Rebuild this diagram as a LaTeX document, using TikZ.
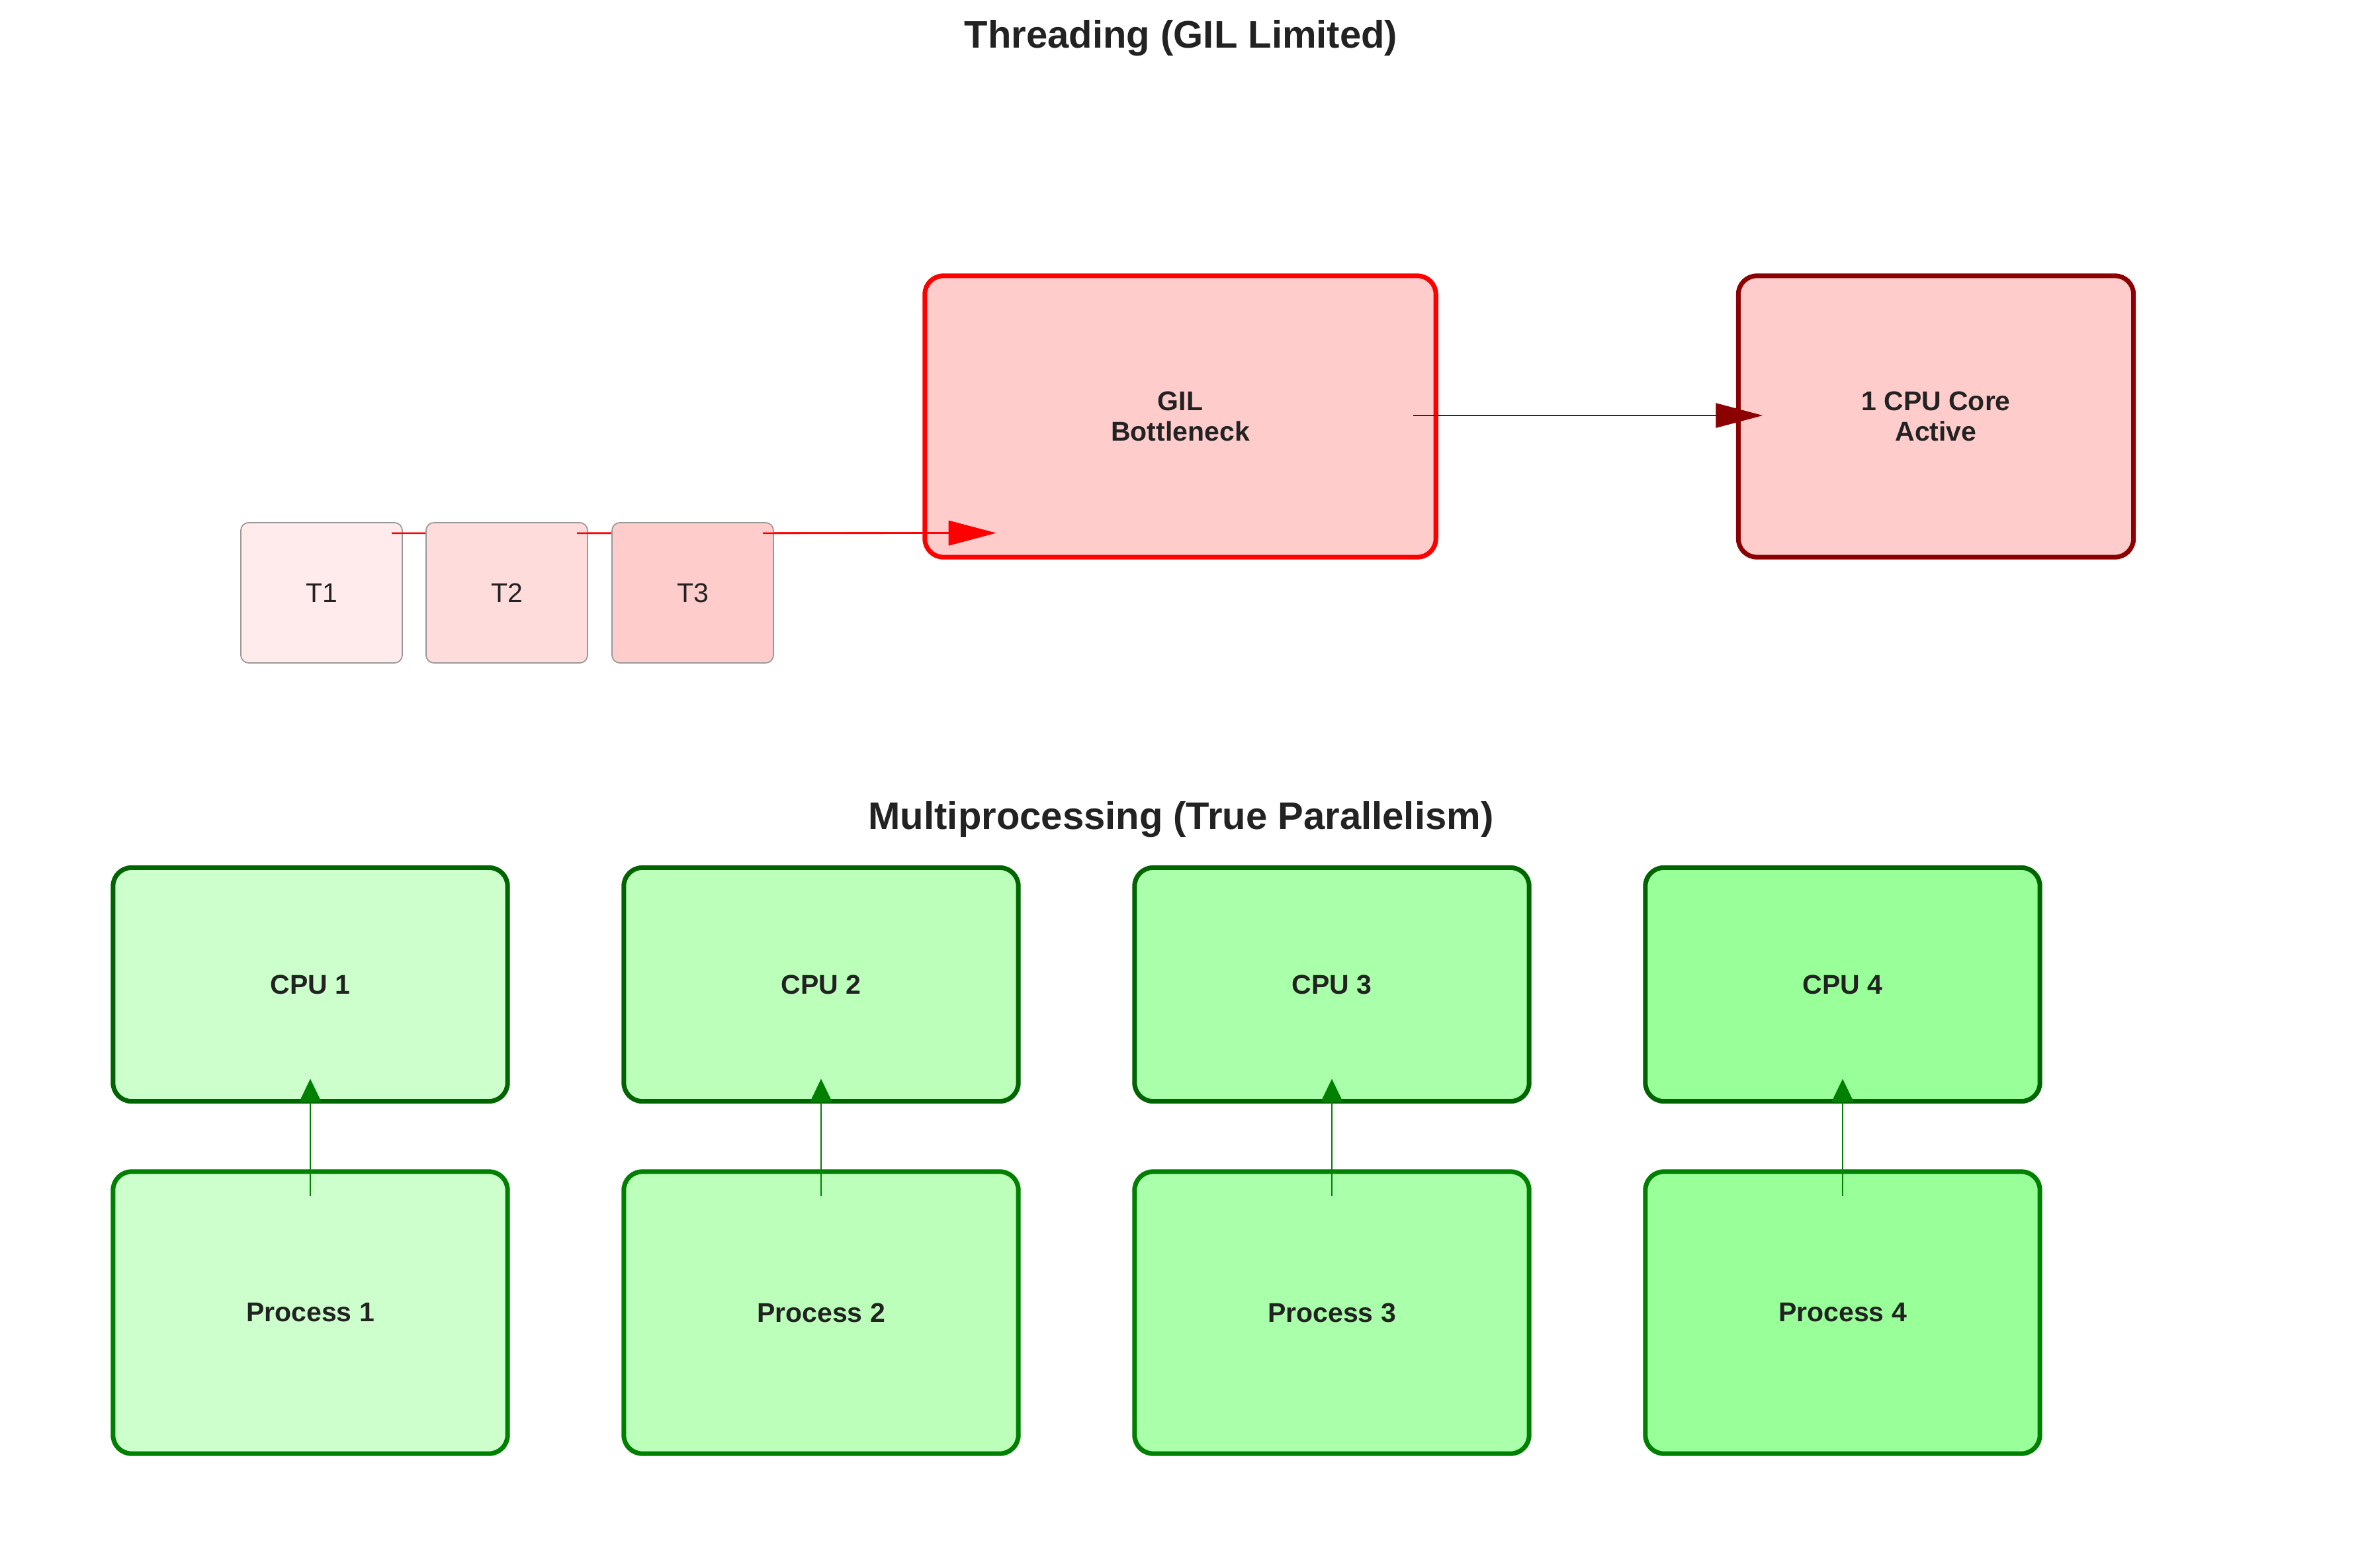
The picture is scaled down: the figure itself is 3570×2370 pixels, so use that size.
\documentclass[tikz,border=0pt]{standalone}
\usepackage{fontspec}
\setmainfont{Liberation Sans}
\usetikzlibrary{arrows.meta}
\definecolor{txt}{HTML}{222222}
\definecolor{tone}{HTML}{FFEBEB}
\definecolor{ttwo}{HTML}{FFDCDC}
\definecolor{tthree}{HTML}{FFCCCC}
\definecolor{pinkfill}{HTML}{FFCCCC}
\definecolor{darkred}{HTML}{8B0000}
\definecolor{darkgreen}{HTML}{006400}
\definecolor{midgreen}{HTML}{008000}
\definecolor{gone}{HTML}{CCFFCC}
\definecolor{gtwo}{HTML}{BBFFBB}
\definecolor{gthree}{HTML}{AAFFAA}
\definecolor{gfour}{HTML}{99FF99}
\tikzset{
  boxtext/.style={font=\fontsize{11.66}{12.9}\selectfont, text=txt, align=center},
  titletext/.style={font=\fontsize{16.5}{20}\selectfont\bfseries, text=txt},
  threadbox/.style={boxtext, draw=gray!80, line width=0.5pt, rounded corners=0.12cm,
    minimum width=2.44cm, minimum height=2.12cm, inner sep=0pt, outer sep=0pt},
  bigbox/.style={boxtext, font=\fontsize{11.66}{12.9}\selectfont\bfseries, line width=2pt,
    rounded corners=0.28cm, inner sep=0pt, outer sep=0pt},
  cpubox/.style={bigbox, draw=darkgreen, minimum width=5.96cm, minimum height=3.53cm},
  procbox/.style={bigbox, draw=midgreen, minimum width=5.96cm, minimum height=4.26cm},
  redarrow/.style={draw=red, line width=0.7pt, -{Triangle[length=0.71cm,width=0.37cm]}, red},
  drarrow/.style={draw=darkred, line width=0.7pt, -{Triangle[length=0.71cm,width=0.37cm]}, darkred},
  grarrow/.style={draw=midgreen, line width=0.7pt, -{Triangle[length=0.35cm,width=0.33cm]}, midgreen}
}
\begin{document}
\begin{tikzpicture}[x=0.01cm, y=-0.01cm]
\path[use as bounding box, fill=white] (0,0) rectangle (3570,2370);

\node[titletext] (title1) at (1785,58) {Threading (GIL Limited)};
\node[titletext] (title2) at (1785,1239) {Multiprocessing (True Parallelism)};

\node[bigbox, draw=red, fill=pinkfill, minimum width=7.72cm, minimum height=4.25cm] (GIL) at (1784,629.5) {GIL\\Bottleneck};
\node[bigbox, draw=darkred, fill=pinkfill, minimum width=5.97cm, minimum height=4.25cm] (CORE) at (2926,629.5) {1 CPU Core\\Active};

\node[threadbox, fill=tone] (T1) at (486,896) {T1};
\draw[redarrow] ([xshift=1.06cm,yshift=0.90cm]T1.center) -- ([shift={(1.07cm,0.365cm)}]GIL.south west);
\node[threadbox, fill=ttwo] (T2) at (766,896) {T2};
\draw[redarrow] ([xshift=1.06cm,yshift=0.90cm]T2.center) -- ([shift={(1.07cm,0.365cm)}]GIL.south west);
\node[threadbox, fill=tthree] (T3) at (1047,896) {T3};
\draw[redarrow] ([xshift=1.06cm,yshift=0.90cm]T3.center) -- ([shift={(1.07cm,0.365cm)}]GIL.south west);

\draw[drarrow] ([xshift=-0.34cm,yshift=0.015cm]GIL.east) -- ([xshift=0.37cm,yshift=0.015cm]CORE.west);

\node[cpubox, fill=gone] (C1) at (469,1488) {CPU 1};
\node[cpubox, fill=gtwo] (C2) at (1241,1488) {CPU 2};
\node[cpubox, fill=gthree] (C3) at (2013,1488) {CPU 3};
\node[cpubox, fill=gfour] (C4) at (2785,1488) {CPU 4};

\node[procbox, fill=gone] (P1) at (469,1984) {Process 1};
\node[procbox, fill=gtwo] (P2) at (1241,1984) {Process 2};
\node[procbox, fill=gthree] (P3) at (2013,1984) {Process 3};
\node[procbox, fill=gfour] (P4) at (2785,1984) {Process 4};

\foreach \i in {1,2,3,4}{
  \draw[grarrow] ([yshift=-0.37cm]P\i.north) -- ([yshift=0.34cm]C\i.south);
}
\end{tikzpicture}
\end{document}
